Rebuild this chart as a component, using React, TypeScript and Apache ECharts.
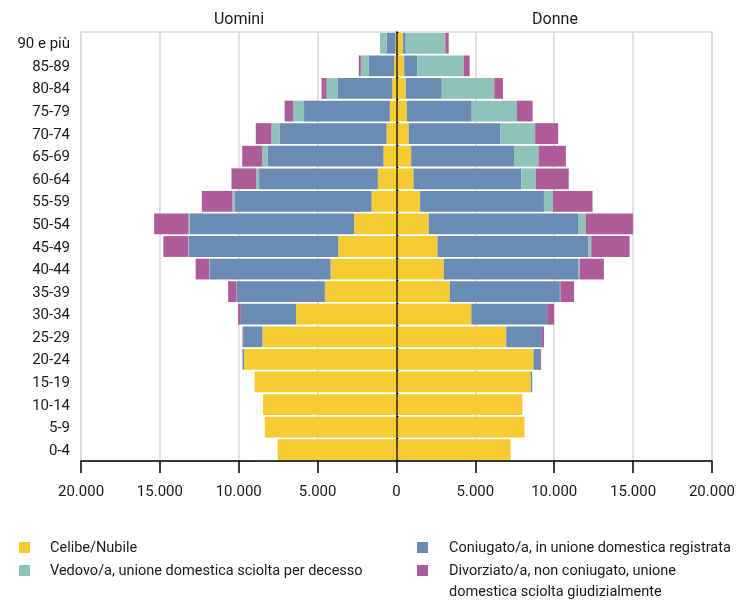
import React, { useEffect, useRef } from "react";
import * as echarts from "echarts";

const categories = ["0-4", "5-9", "10-14", "15-19", "20-24", "25-29", "30-34", "35-39", "40-44", "45-49", "50-54", "55-59", "60-64", "65-69", "70-74", "75-79", "80-84", "85-89", "90 e più"];

const seriesNames = [
  "Celibe/Nubile",
  "Coniugato/a, in unione domestica registrata",
  "Vedovo/a, unione domestica sciolta per decesso",
  "Divorziato/a, non coniugato, unione domestica sciolta giudizialmente",
];

// Uomini (men)
const menCelibe = [7530, 8350, 8460, 8990, 9660, 8500, 6370, 4540, 4180, 3690, 2680, 1580, 1180, 820, 630, 420, 270, 150, 60];
const menConiugato = [0, 0, 0, 0, 105, 1220, 3500, 5610, 7640, 9470, 10420, 8690, 7530, 7340, 6790, 5440, 3440, 1600, 570];
const menVedovo = [0, 0, 0, 0, 0, 0, 0, 10, 40, 40, 80, 130, 190, 340, 510, 700, 720, 510, 420];
const menDivorziato = [0, 0, 0, 0, 0, 40, 170, 510, 870, 1580, 2180, 1940, 1560, 1280, 990, 530, 320, 130, 0];

// Donne (women)
const womenNubile = [7240, 8120, 7980, 8520, 8690, 6960, 4750, 3380, 3000, 2600, 2050, 1500, 1080, 930, 780, 650, 590, 490, 420];
const womenConiugata = [0, 0, 0, 80, 420, 2260, 4790, 6980, 8550, 9580, 9500, 7850, 6840, 6560, 5820, 4120, 2280, 820, 170];
const womenVedova = [0, 0, 0, 0, 0, 0, 10, 30, 80, 170, 440, 570, 910, 1520, 2190, 2850, 3330, 2950, 2510];
const womenDivorziata = [0, 0, 0, 0, 60, 130, 440, 870, 1520, 2430, 3000, 2510, 2090, 1730, 1460, 1010, 550, 380, 210];

const xTicks = { min: -20000, max: 20000, interval: 5000 };
const colors = ["#F5CA33", "#6A8BB4", "#8FC3B9", "#AE5B9A"];
const FONT = "Roboto, 'Liberation Sans', sans-serif";
const TEXT = "#1a1a1a";

const fmt = (v: number) => {
  const a = Math.abs(v);
  return a.toLocaleString("en-US").replace(/,/g, ".");
};

export default function App() {
  const ref = useRef<HTMLDivElement>(null);
  useEffect(() => {
    if (!ref.current) return;
    const chart = echarts.init(ref.current, undefined, { renderer: "svg" });
    const menData = [menCelibe, menConiugato, menVedovo, menDivorziato];
    const womenData = [womenNubile, womenConiugata, womenVedova, womenDivorziata];
    const barBase = {
      type: "bar",
      barGap: "-100%",
      barCategoryGap: "8%",
      yAxisIndex: 0,
    };
    const series: any[] = [];
    menData.forEach((arr, i) => {
      series.push({
        ...barBase,
        name: seriesNames[i],
        stack: "men",
        itemStyle: { color: colors[i] },
        data: arr.map((v) => -v),
      });
    });
    womenData.forEach((arr, i) => {
      series.push({
        ...barBase,
        name: seriesNames[i],
        stack: "women",
        itemStyle: { color: colors[i] },
        data: arr.slice(),
      });
    });

    const legendText = { fontFamily: FONT, fontSize: 14.5, color: TEXT, lineHeight: 21 };
    chart.setOption({
      animation: false,
      color: colors,
      grid: {
        left: 81,
        right: 25,
        top: 32,
        bottom: 140,
        show: true,
        borderColor: "#d9d9d9",
        borderWidth: 1.5,
      },
      xAxis: {
        type: "value",
        min: xTicks.min,
        max: xTicks.max,
        interval: xTicks.interval,
        axisLine: { show: true, onZero: false, lineStyle: { color: "#000", width: 1.5 } },
        axisTick: { show: true, length: 12, lineStyle: { color: "#000", width: 1.5 } },
        axisLabel: { formatter: fmt, fontFamily: FONT, fontSize: 15, color: TEXT, margin: 22 },
        splitLine: { show: true, lineStyle: { color: "#d9d9d9", width: 1.5 } },
      },
      yAxis: [
        {
          type: "category",
          data: categories,
          axisLine: { show: false, onZero: false },
          axisTick: { show: false },
          axisLabel: { interval: 0, fontFamily: FONT, fontSize: 15, color: TEXT, margin: 11 },
          splitLine: { show: false },
        },
        {
          type: "category",
          data: categories,
          position: "left",
          z: 10,
          axisLine: { show: true, onZero: true, lineStyle: { color: "rgba(0,0,0,0.6)", width: 2 } },
          axisTick: { show: true, inside: true, length: 2, lineStyle: { color: "#000", width: 1 } },
          axisLabel: { show: false },
          splitLine: { show: false },
        },
      ],
      legend: [
        {
          data: [seriesNames[0], seriesNames[2]],
          orient: "vertical",
          left: 19,
          top: 537,
          padding: 0,
          itemWidth: 11,
          itemHeight: 11,
          itemGap: 2,
          icon: "rect",
          selectedMode: false,
          textStyle: { ...legendText, padding: [0, 0, 0, 15] },
        },
        {
          data: [seriesNames[1]],
          orient: "vertical",
          left: 417,
          top: 537,
          padding: 0,
          itemWidth: 11,
          itemHeight: 11,
          icon: "rect",
          selectedMode: false,
          textStyle: { ...legendText, padding: [0, 0, 0, 16] },
        },
        {
          data: [seriesNames[3]],
          orient: "vertical",
          left: 417,
          top: 539,
          padding: 0,
          itemWidth: 11,
          itemHeight: 11,
          icon: "rect",
          selectedMode: false,
          formatter: () => "\nDivorziato/a, non coniugato, unione\ndomestica sciolta giudizialmente",
          textStyle: { ...legendText, padding: [0, 0, 0, 16] },
        },
      ],
      graphic: [
        {
          type: "text",
          x: 239,
          y: 18,
          style: { text: "Uomini", fontFamily: FONT, fontSize: 16, fill: TEXT, align: "center", verticalAlign: "middle" },
        },
        {
          type: "text",
          x: 555,
          y: 18,
          style: { text: "Donne", fontFamily: FONT, fontSize: 16, fill: TEXT, align: "center", verticalAlign: "middle" },
        },
      ],
      series,
    });
    return () => chart.dispose();
  }, []);
  return <div ref={ref} style={{ position: "fixed", left: 0, top: 0, width: 738, height: 601 }} />;
}
